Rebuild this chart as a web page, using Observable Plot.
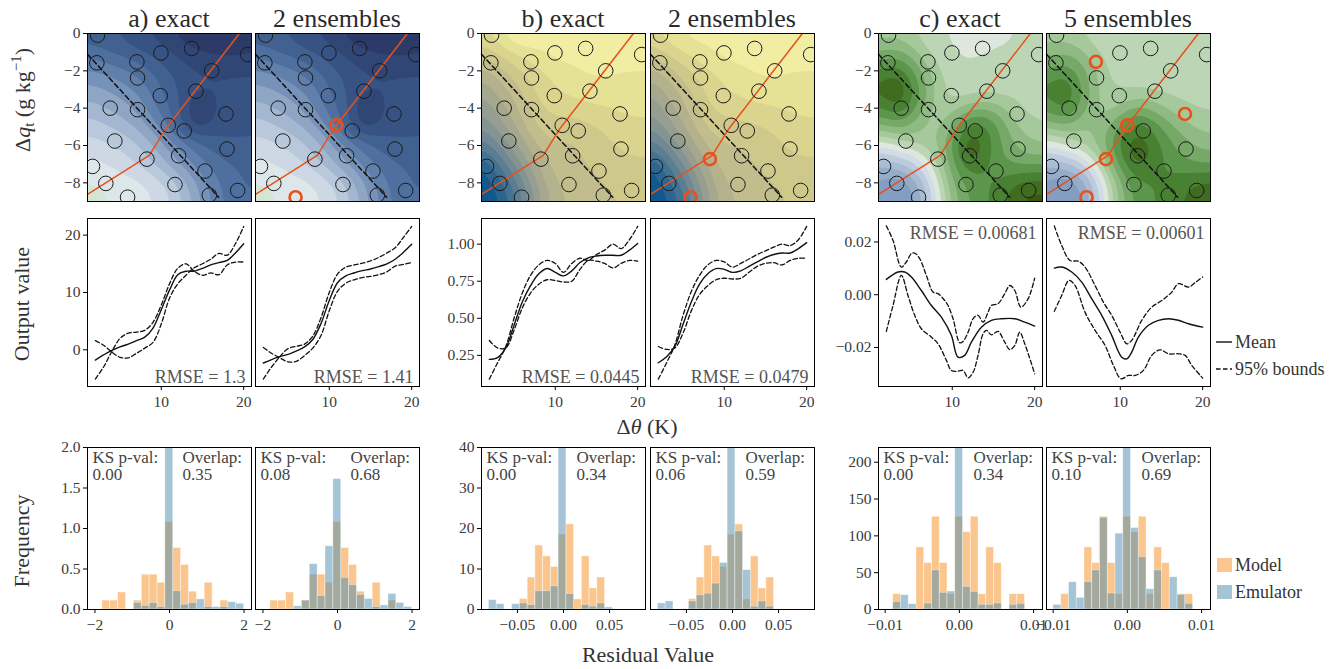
<!DOCTYPE html>
<html><head><meta charset="utf-8">
<script src="https://cdn.jsdelivr.net/npm/d3@7"></script>
<script src="https://cdn.jsdelivr.net/npm/@observablehq/plot@0.6"></script>
<style>
html,body{margin:0;padding:0;background:#fff;}
#fig{position:relative;width:1337px;height:669px;overflow:hidden;background:#fff;}
#fig svg{position:absolute;}
</style></head>
<body><div id="fig"></div>
<script>
// ================= DATA =================
// --- top row: sample design (Δθ, Δq_t), path and transect ---
const sampleX = [3.1,3.03,10.06,13.43,19.58,7.42,7.49,15.63,9.99,13.9,4.49,7.49,17.2,10.86,12.62,5.0,17.31,8.52,12.0,2.55,14.89,4.01,11.6,15.37,18.48,6.4];
const sampleY = [-0.09,-1.57,-1.04,-0.8,-1.13,-1.52,-2.38,-2.0,-3.33,-3.09,-4.0,-4.08,-4.31,-4.92,-5.22,-5.76,-6.19,-6.73,-6.55,-7.12,-7.37,-8.03,-8.09,-8.66,-8.41,-8.77];
const highlightA = [13, 25];
const highlightB = [17, 25];
const highlightC = [5, 12, 13, 17, 25];
const pathX = [2, 8.78, 10.6, 18.67];
const pathY = [-8.62, -6.53, -5.1, 0];
const transectX = [2, 16.4];
const transectY = [-1.11, -8.77];

// --- top row: emulator fields read as contour levels on a coarse grid ---
const gridX = [2,4,6,8,10,12,14,16,18,20];
const gridY = [0,-1,-2,-3,-4,-5,-6,-7,-8,-9];
const fieldA = [
  [9.5,10,10.3,11,11.5,12.5,13,13.3,13.2,12.8],
  [8.5,9,9.5,10,10.5,11.3,11.8,12.2,12.3,12],
  [6.8,7.2,7.8,8.5,9.5,10.5,11,11,11,11],
  [5.5,6,6.5,7.5,9,10,10.8,11,10.8,10.8],
  [4.5,5,5.6,6.5,8.5,9.5,12.6,11,10.5,10.5],
  [3.3,3.8,4.5,5.5,7,9.5,12.2,10.5,10.3,10.2],
  [2.5,2.8,3.2,4,5.5,7,8.5,9.5,9.8,9.8],
  [1.5,2,2.5,3.3,4.5,6,7.5,8.5,9,9.3],
  [1,1.2,1.5,1.8,2.6,4,6,7.8,8.8,9.2],
  [0.3,1,1.2,1.5,2.2,3.5,5.5,7.5,8.5,9]
];
const fieldBexact = [
  [11.8,12.8,14.6,14.2,13.5,13.6,13.6,13.6,13.6,13.6],
  [10.3,11.3,12.3,12.8,13.4,13.5,13.5,13.6,13.6,13.6],
  [8.5,9.5,10.8,11.8,12.3,12.8,13.3,13.2,13,13],
  [7,8.5,9.7,11.2,12,12.3,12.5,12.6,12.5,12.4],
  [6,7.5,9,10.8,11.3,11.6,11.9,12,12.2,12.2],
  [5,6.5,8.2,10.2,10.8,10.3,10.8,11.3,11.8,11.8],
  [3,5,7,9,10,9.8,10.3,10.8,11.3,11.3],
  [0.7,3,5.5,8,9.5,9.8,10.1,10.4,10.8,10.8],
  [0,1.5,4,7,9,9.4,9.8,10.1,10.4,10.4],
  [0,0.5,3,6.5,8.6,9.2,9.5,9.8,10.1,10.1]
];
const fieldBens = [
  [11.8,12.8,13.5,13.5,13.5,13.6,13.6,13.6,13.6,13.6],
  [10.3,11.3,12.3,12.8,13.4,13.5,13.5,13.6,13.6,13.6],
  [8.5,9.5,10.8,11.8,12.3,12.8,13.3,13.2,13,13],
  [7,8.5,9.7,11.2,12,12.3,12.5,12.6,12.5,12.4],
  [6,7.5,9,10.8,11.3,11.6,11.9,12,12.2,12.2],
  [5,6.5,8.2,10.2,10.8,10.6,10.9,11.3,11.8,11.8],
  [3,5,7,9,10,10,10.3,10.8,11.3,11.3],
  [0.7,3,5.5,8,9.5,9.8,10.1,10.4,10.8,10.8],
  [0,1.5,4,7,9,9.4,9.8,10.1,10.4,10.4],
  [0,0.5,3,6.5,8.6,9.2,9.5,9.8,10.1,10.1]
];
const fieldCexact = [
  [8.3,8.3,7.8,7,7,6,6,6.5,7.5,7.5],
  [10,10.5,9,7.5,7,7,7.2,7.5,7.5,7.5],
  [12,13,11,8.5,7.3,7,7.2,7.5,7.5,7.5],
  [13,15,12,9,7.5,7.3,7.5,7.5,7.5,7.3],
  [11.5,13.5,11.5,8.5,8.3,9.5,10,8.8,7.8,7.5],
  [9.5,10.5,9.5,8.3,10,13,12.5,10,8.5,8],
  [6,7,7.8,8.5,11,15,12.5,10.5,9.5,9],
  [3,3.5,4.5,7.3,10.5,13,12,11,10.5,11],
  [2,0.8,2.2,5.5,10,11.5,12,12.5,13.5,13.5],
  [2.5,0.3,1.5,5,9.5,11,12,13,14.5,14.5]
];
const fieldCens = [
  [8.3,8.3,7.8,7,7,7,7,7.3,7.5,7.5],
  [9.5,10,9,7.8,7.2,7,7,7.2,7.3,7.5],
  [11,12,10.5,8.5,7.3,7.2,7.3,7.4,7.5,7.5],
  [12,13.5,11,8.5,8,8,7.8,7.6,7.5,7.5],
  [11,13,10.5,8.5,9,10.5,9.5,8.5,8,7.8],
  [9,10,9,9,11.5,13,11.5,10,9,8.5],
  [6,7,7.8,9.5,12.5,14.5,12.5,11,10,9.5],
  [3,3.5,4.5,7.8,11.5,13.5,12.5,11.5,11,11],
  [2,0.8,2.2,5.5,10,12,12,12.5,13,13.5],
  [2.5,0.3,1.5,5,9.5,11.5,12,12.5,13.5,14]
];
const levelsA = [0,1,2,3,4,5,6,7,8,9,10,11,12,13];
const levelsB = [0,1,2,3,4,5,6,7,8,9,10,11,12,13,14];
const levelsC = [0,1,2,3,4,5,6,7,8,9,10,11,12,13,14,15];

// --- middle row: emulator mean and 95% bounds vs Δθ (K) ---
const xInt = [2,3,4,5,6,7,8,9,10,11,12,13,14,15,16,17,18,19,20];
const aExactMean = [-1.8,-0.9,-0.1,0.5,1.0,1.6,2.2,3.8,7.0,10.4,13.1,13.7,13.7,14.2,14.8,15.2,15.6,16.9,18.5];
const aExactBoundA = [1.6,0.8,-0.4,-1.3,-1.4,-0.6,0.3,1.3,4.5,9.0,11.5,13.0,14.3,15.0,15.8,16.8,16.5,18.5,21.5];
const aExactBoundB = [-5.1,-3.0,-0.3,2.0,2.9,3.1,3.4,4.8,7.8,11.5,14.2,15.0,13.7,13.0,13.4,13.1,14.8,15.3,15.3];
const aEnsMean = [-2.3,-1.7,-1.2,-0.8,-0.2,0.5,1.8,4.6,8.6,11.7,12.9,13.4,13.8,14.1,14.5,15.0,15.8,17.0,18.4];
const aEnsBoundA = [0.4,-0.6,-1.4,-2.1,-2.0,-1.0,0.3,2.5,6.8,10.2,11.6,12.2,12.6,12.8,13.1,13.6,14.6,14.9,15.2];
const aEnsBoundB = [-5.1,-3.0,-1.2,0.2,0.6,1.0,2.4,5.6,10.0,13.2,14.4,14.8,15.1,15.5,16.1,16.9,17.8,19.6,21.5];
const bExactMean = [0.223,0.235,0.30,0.453,0.61,0.72,0.80,0.836,0.81,0.786,0.82,0.876,0.908,0.92,0.925,0.925,0.925,0.96,1.005];
const bExactBoundA = [0.35,0.30,0.30,0.42,0.57,0.67,0.73,0.76,0.755,0.745,0.75,0.83,0.89,0.885,0.87,0.84,0.87,0.89,0.885];
const bExactBoundB = [0.09,0.2,0.31,0.5,0.67,0.79,0.86,0.89,0.87,0.81,0.87,0.905,0.89,0.93,0.96,1.0,0.97,1.03,1.12];
const bEnsMean = [0.20,0.24,0.31,0.46,0.61,0.73,0.80,0.835,0.83,0.81,0.82,0.85,0.88,0.91,0.93,0.94,0.94,0.97,1.01];
const bEnsBoundA = [0.31,0.29,0.30,0.40,0.55,0.66,0.72,0.76,0.77,0.765,0.77,0.81,0.85,0.87,0.875,0.86,0.89,0.905,0.905];
const bEnsBoundB = [0.09,0.2,0.32,0.52,0.68,0.79,0.86,0.89,0.88,0.845,0.87,0.90,0.93,0.955,0.98,1.0,0.99,1.03,1.12];
const cExactMeanX = [2,3.42,4.23,5.04,6.25,7.47,8.68,9.89,10.7,11.51,12.32,13.54,14.75,15.97,17.59,18.8,20];
const cExactMean = [0.0058,0.0086,0.0086,0.0067,0.0016,-0.0041,-0.0085,-0.0154,-0.0237,-0.023,-0.018,-0.0123,-0.0097,-0.0091,-0.0091,-0.0104,-0.0119];
const cExactUpX = [2,2.81,3.82,4.43,5.04,5.44,6.05,6.86,7.67,8.28,9.09,9.49,10.1,10.91,11.31,11.92,12.53,13.13,13.74,14.35,14.75,15.56,16.37,16.98,17.59,18.32,19.21,20];
const cExactUp = [0.0261,0.0206,0.0105,0.0124,0.0156,0.0158,0.0137,0.0073,0.001,0.0004,-0.0022,-0.0041,-0.0091,-0.0182,-0.0177,-0.0142,-0.0091,-0.0078,-0.0104,-0.0066,-0.0041,-0.0034,0.0004,0.0035,0.0016,-0.0047,-0.0015,0.0063];
const cExactLoX = [2,2.81,3.82,4.63,5.44,6.25,7.47,8.28,9.29,9.89,10.7,11.31,11.92,12.53,13.13,13.74,14.15,14.75,15.56,16.37,16.98,17.59,18.19,18.8,20];
const cExactLo = [-0.0139,-0.0041,0.0073,-0.0003,-0.0078,-0.0129,-0.0161,-0.0186,-0.0249,-0.0287,-0.029,-0.0287,-0.0315,-0.0294,-0.023,-0.0148,-0.0135,-0.0152,-0.0139,-0.018,-0.0208,-0.0192,-0.0142,-0.0186,-0.03];
const cEnsMeanX = [2,2.89,4.11,5.32,6.53,7.75,8.96,10.18,10.79,11.39,12.2,13.42,14.63,15.85,17.06,18.28,20];
const cEnsMean = [0.0101,0.0105,0.0086,0.0048,-0.0015,-0.0078,-0.0154,-0.0237,-0.0243,-0.0218,-0.0161,-0.0116,-0.0097,-0.0091,-0.0097,-0.011,-0.0123];
const cEnsUpX = [2,2.89,3.9,4.91,5.72,6.94,7.95,8.96,9.98,10.79,11.39,12.61,13.82,15.04,16.25,17.06,18.28,19.09,20];
const cEnsUp = [0.0261,0.0187,0.013,0.0127,0.0105,0.0035,-0.0028,-0.0078,-0.0142,-0.0186,-0.0173,-0.0097,-0.0047,-0.0022,0.001,0.0042,0.0029,0.0046,0.0067];
const cEnsLoX = [2,2.89,3.78,4.51,5.72,6.94,8.15,9.17,10.1,10.99,11.8,12.81,13.82,14.83,15.85,17.06,17.87,18.68,20];
const cEnsLo = [-0.0063,-0.0003,0.0054,0.0035,-0.0066,-0.0135,-0.0192,-0.0268,-0.0319,-0.0306,-0.0306,-0.0287,-0.023,-0.0209,-0.0224,-0.0224,-0.023,-0.0268,-0.0316];
const rmseLabels = ["1.3","1.41","0.0445","0.0479","0.00681","0.00601"];

// --- bottom row: residual histograms (bin edges and heights) ---
const binsA = [-1.8,-1.589,-1.378,-1.167,-0.956,-0.744,-0.533,-0.322,-0.111,0.1,0.311,0.522,0.733,0.944,1.156,1.367,1.578,1.789,2.0];
const modelA = [0.11,0.11,0.21,0,0.11,0.43,0.43,0.33,1.08,0.76,0.55,0.22,0,0.33,0,0.11,0,0];
const emuAexact = [0,0,0,0,0.08,0.045,0.08,0.03,2.4,0.225,0.06,0.08,0.125,0.03,0.03,0.03,0.09,0.07];
const emuAens = [0,0,0,0.04,0.11,0.56,0.165,0.78,1.61,0.39,0.30,0.18,0.13,0.03,0.05,0.19,0.08,0.03];
const binsB = [-0.0809,-0.0725,-0.0641,-0.0557,-0.0473,-0.0389,-0.0305,-0.0221,-0.0137,-0.0053,0.0031,0.0115,0.0199,0.0283,0.0367,0.0451,0.0535];
const modelB = [0,0,0,0,2.6,7.9,15.8,13.1,10.5,18.5,21,2.5,13.1,5.2,7.9,0];
const emuBexact = [2.3,1.3,0,1.3,1.5,1.1,4.5,4.5,5.7,45,3.8,0,1.1,0.7,1.5,0.5];
const emuBens = [1.5,2.0,0,0,2.0,3.5,3.9,6.4,11.5,45,19.3,9.7,0.7,2.0,0.7,0];
const binsC = [-0.00996,-0.008915,-0.00787,-0.006825,-0.00578,-0.004735,-0.00369,-0.002645,-0.0016,-0.000555,0.00049,0.001535,0.00258,0.003625,0.00467,0.005715,0.00676,0.007805,0.00885];
const modelC = [0,20.8,0,0,84.4,63,126,63,20.8,126,105,126,20.8,84.4,63,0,20.8,20.8];
const emuCexact = [0,10,19.4,7.2,0,8,53,22.6,24.4,240,30.7,23.9,6.3,6.3,8.1,0,6.3,7.7];
const emuCens = [6.3,0,37,15.8,37,53,124.6,21.7,103,240,110.6,71,27.5,53,0,43.8,19.9,7.7];
const ksLabels = ["0.00","0.08","0.00","0.06","0.00","0.10"];
const overlapLabels = ["0.35","0.68","0.34","0.59","0.34","0.69"];

const titles = ["a) exact","2 ensembles","b) exact","2 ensembles","c) exact","5 ensembles"];

// ================= STYLE / LAYOUT =================
const FONT = "'Liberation Serif', 'DejaVu Serif', serif";
const ORANGE = "#e8501c";
const MODEL = "#fbc68d", EMU = "#4b8bad";
const colorsA = ["#d5e5d3","#dde7e9","#cdd8e4","#b9c8db","#a4b7d0","#8ea5c4","#7792b8","#617fab","#4f6f9f","#416191","#375384","#304776","#2c3a67","#2a2d56"];
const colorsB = ["#11598c","#2b6590","#447291","#5b7e93","#708994","#839493","#959e91","#a5a88f","#b4b28d","#c2bd8c","#cec88b","#dad48e","#e5e195","#f1eda2","#ffffff"];
const colorsC = ["#7190b9","#839ec1","#96adca","#a9bcd3","#bdcbdc","#d1dce6","#dde7dd","#bcd6b5","#a6c99c","#8fba83","#76a868","#5c954c","#498132","#3f6c1f","#3b5713","#374a0b"];

const fig = document.getElementById("fig");
const ML = 60, MR = 10, MT = 10, MB = 36;
const colL = [87, 255, 481, 650, 878, 1046];
const PW = 164;
const rowT = [33, 218, 447];
const rowH = [168, 168, 162];

const fmt = dec => d => (d < 0 ? "\u2212" : "") + Math.abs(d).toFixed(dec);
function base(h) {
  return {width: PW + ML + MR, height: h + MT + MB, marginLeft: ML, marginRight: MR, marginTop: MT, marginBottom: MB,
    style: {background: "transparent", overflow: "visible", fontFamily: FONT, fontSize: "15.5px", color: "#000"}};
}
function mount(p, ci, ri) {
  p.style.position = "absolute";
  p.style.left = (colL[ci] - ML) + "px";
  p.style.top = (rowT[ri] - MT) + "px";
  fig.appendChild(p);
}
const yAx = (ticks, dec) => Plot.axisY({ticks, tickFormat: fmt(dec), tickSize: 4, tickPadding: 3, label: null, stroke: "#000", fill: "#3a3a3a"});
const xAx = (ticks, dec) => Plot.axisX({ticks, tickFormat: fmt(dec), tickSize: 4, tickPadding: 5, label: null, stroke: "#000", fill: "#3a3a3a"});
const pts = (xs, ys) => xs.map((x, i) => ({x, y: ys[i]}));

// ================= TOP ROW =================
function topPanel(ci, field, levels, colors, hi) {
  const cells = [];
  gridY.forEach((gy, r) => gridX.forEach((gx, c) => cells.push({x: gx, y: gy, v: field[r][c]})));
  const samples = pts(sampleX, sampleY);
  const plain = samples.filter((d, i) => !hi.includes(i));
  const marks = [
    Plot.contour(cells, {x: "x", y: "y", fill: "v", thresholds: levels, interpolate: "barycentric", blur: 4, stroke: "none"}),
    Plot.line(pts(transectX, transectY), {x: "x", y: "y", stroke: "#111", strokeWidth: 1.5, strokeDasharray: "5,3"}),
    Plot.line(pts(pathX, pathY), {x: "x", y: "y", stroke: ORANGE, strokeWidth: 1.5, clip: true}),
    Plot.dot(plain, {x: "x", y: "y", r: 7.3, stroke: "#1a1a1a", strokeWidth: 1, fill: "none", clip: true}),
    Plot.dot(hi.map(i => samples[i]), {x: "x", y: "y", r: 6, stroke: ORANGE, strokeWidth: 2.6, fill: "none", clip: true}),
    Plot.frame({stroke: "#000", strokeWidth: 1})
  ];
  if (ci % 2 === 0) marks.push(yAx([0, -2, -4, -6, -8], 0));
  mount(Plot.plot({...base(rowH[0]), x: {domain: [2, 20], axis: null}, y: {domain: [-9, 0], axis: null},
    color: {type: "threshold", domain: levels.slice(1), range: colors}, marks}), ci, 0);
}
topPanel(0, fieldA, levelsA, colorsA, []);
topPanel(1, fieldA, levelsA, colorsA, highlightA);
topPanel(2, fieldBexact, levelsB, colorsB, []);
topPanel(3, fieldBens, levelsB, colorsB, highlightB);
topPanel(4, fieldCexact, levelsC, colorsC, []);
topPanel(5, fieldCens, levelsC, colorsC, highlightC);

// ================= MIDDLE ROW =================
function midPanel(ci, mean, bA, bB, yDom, yTicks, dec, rmseTop) {
  const dash = {x: "x", y: "y", stroke: "#111", strokeWidth: 1.3, strokeDasharray: "4.5,2.5", curve: "catmull-rom", clip: true};
  const marks = [
    Plot.line(bA, dash),
    Plot.line(bB, dash),
    Plot.line(mean, {x: "x", y: "y", stroke: "#111", strokeWidth: 1.4, curve: "catmull-rom", clip: true}),
    Plot.text([`RMSE = ${rmseLabels[ci]}`], {text: d => d, frameAnchor: rmseTop ? "top-right" : "bottom-right", textAnchor: "end",
      lineAnchor: rmseTop ? "top" : "bottom", dx: -6, dy: rmseTop ? 8 : -4, fontSize: 18, fill: "#555", fontFamily: FONT}),
    Plot.frame({stroke: "#000", strokeWidth: 1}),
    xAx([10, 20], 0)
  ];
  if (ci % 2 === 0) marks.push(yAx(yTicks, dec));
  mount(Plot.plot({...base(rowH[1]), x: {domain: [1.05, 20.95], axis: null}, y: {domain: yDom, axis: null}, marks}), ci, 1);
}
midPanel(0, pts(xInt, aExactMean), pts(xInt, aExactBoundA), pts(xInt, aExactBoundB), [-6.4, 22.9], [0, 10, 20], 0, false);
midPanel(1, pts(xInt, aEnsMean), pts(xInt, aEnsBoundA), pts(xInt, aEnsBoundB), [-6.4, 22.9], [0, 10, 20], 0, false);
midPanel(2, pts(xInt, bExactMean), pts(xInt, bExactBoundA), pts(xInt, bExactBoundB), [0.04, 1.173], [0.25, 0.5, 0.75, 1.0], 2, false);
midPanel(3, pts(xInt, bEnsMean), pts(xInt, bEnsBoundA), pts(xInt, bEnsBoundB), [0.04, 1.173], [0.25, 0.5, 0.75, 1.0], 2, false);
midPanel(4, pts(cExactMeanX, cExactMean), pts(cExactUpX, cExactUp), pts(cExactLoX, cExactLo), [-0.0348, 0.0289], [-0.02, 0, 0.02], 2, true);
midPanel(5, pts(cEnsMeanX, cEnsMean), pts(cEnsUpX, cEnsUp), pts(cEnsLoX, cEnsLo), [-0.0348, 0.0289], [-0.02, 0, 0.02], 2, true);

// ================= BOTTOM ROW =================
function histPanel(ci, edges, model, emu, xDom, xTicks, xDec, yDom, yTicks, yDec) {
  const bars = h => h.map((v, i) => ({x1: edges[i], x2: edges[i + 1], h: v})).filter(d => d.h > 0);
  const ann = {frameAnchor: "top-left", textAnchor: "start", lineAnchor: "bottom", fontSize: 17, fill: "#444", fontFamily: FONT, text: d => d};
  const marks = [
    Plot.rect(bars(model), {x1: "x1", x2: "x2", y1: 0, y2: "h", fill: MODEL, stroke: "#fff", strokeOpacity: 0.5, strokeWidth: 0.8, clip: true}),
    Plot.rect(bars(emu), {x1: "x1", x2: "x2", y1: 0, y2: "h", fill: EMU, fillOpacity: 0.5, stroke: "#fff", strokeOpacity: 0.4, strokeWidth: 0.8, clip: true}),
    Plot.text(["KS p-val:"], {...ann, dx: 5, dy: 15}),
    Plot.text([ksLabels[ci]], {...ann, dx: 5, dy: 32}),
    Plot.text(["Overlap:"], {...ann, dx: 95, dy: 15}),
    Plot.text([overlapLabels[ci]], {...ann, dx: 95, dy: 32}),
    Plot.frame({stroke: "#000", strokeWidth: 1}),
    xAx(xTicks, xDec)
  ];
  if (ci % 2 === 0) marks.push(yAx(yTicks, yDec));
  mount(Plot.plot({...base(rowH[2]), x: {domain: xDom, axis: null}, y: {domain: yDom, axis: null}, marks}), ci, 2);
}
histPanel(0, binsA, modelA, emuAexact, [-2.2, 2.2], [-2, 0, 2], 0, [0, 2], [0, 0.5, 1, 1.5, 2], 1);
histPanel(1, binsA, modelA, emuAens, [-2.2, 2.2], [-2, 0, 2], 0, [0, 2], [0, 0.5, 1, 1.5, 2], 1);
histPanel(2, binsB, modelB, emuBexact, [-0.089, 0.089], [-0.05, 0, 0.05], 2, [0, 40], [0, 10, 20, 30, 40], 0);
histPanel(3, binsB, modelB, emuBens, [-0.089, 0.089], [-0.05, 0, 0.05], 2, [0, 40], [0, 10, 20, 30, 40], 0);
histPanel(4, binsC, modelC, emuCexact, [-0.0109, 0.0112], [-0.01, 0, 0.01], 2, [0, 220], [0, 50, 100, 150, 200], 0);
histPanel(5, binsC, modelC, emuCens, [-0.0109, 0.0112], [-0.01, 0, 0.01], 2, [0, 220], [0, 50, 100, 150, 200], 0);

// ================= TEXT OVERLAY (titles, labels, legends) =================
const ov = d3.select(fig).append("svg").attr("width", 1337).attr("height", 669)
  .style("left", "0px").style("top", "0px").style("font-family", FONT);
titles.forEach((t, i) => ov.append("text").attr("x", colL[i] + PW / 2).attr("y", 27).attr("text-anchor", "middle")
  .attr("font-size", 26).attr("fill", "#2a2a2a").text(t));
const yl = ov.append("text").attr("transform", "translate(30,100) rotate(-90)").attr("text-anchor", "middle").attr("font-size", 22).attr("fill", "#333");
yl.append("tspan").text("Δ");
yl.append("tspan").attr("font-style", "italic").text("q");
yl.append("tspan").attr("font-size", 15).attr("dy", 4).text("t");
yl.append("tspan").attr("dy", -4).text(" (g kg");
yl.append("tspan").attr("font-size", 15).attr("dy", -9).text("\u22121");
yl.append("tspan").attr("dy", 9).text(")");
ov.append("text").attr("transform", "translate(29,304) rotate(-90)").attr("text-anchor", "middle").attr("font-size", 22).attr("fill", "#333").text("Output value");
ov.append("text").attr("transform", "translate(29,541) rotate(-90)").attr("text-anchor", "middle").attr("font-size", 22).attr("fill", "#333").text("Frequency");
const xl = ov.append("text").attr("x", 647).attr("y", 434).attr("text-anchor", "middle").attr("font-size", 22).attr("fill", "#333");
xl.append("tspan").text("Δ");
xl.append("tspan").attr("font-style", "italic").text("θ");
xl.append("tspan").text(" (K)");
ov.append("text").attr("x", 648).attr("y", 662).attr("text-anchor", "middle").attr("font-size", 22).attr("fill", "#333").text("Residual Value");
// line legend
ov.append("line").attr("x1", 1216).attr("x2", 1232).attr("y1", 342).attr("y2", 342).attr("stroke", "#111").attr("stroke-width", 1.4);
ov.append("text").attr("x", 1235).attr("y", 348).attr("font-size", 18).attr("fill", "#333").text("Mean");
ov.append("line").attr("x1", 1216).attr("x2", 1232).attr("y1", 369).attr("y2", 369).attr("stroke", "#111").attr("stroke-width", 1.3).attr("stroke-dasharray", "4.5,2.5");
ov.append("text").attr("x", 1235).attr("y", 375).attr("font-size", 18).attr("fill", "#333").text("95% bounds");
// histogram legend
ov.append("rect").attr("x", 1217).attr("y", 558).attr("width", 15).attr("height", 14).attr("fill", MODEL);
ov.append("text").attr("x", 1235).attr("y", 571).attr("font-size", 18).attr("fill", "#333").text("Model");
ov.append("rect").attr("x", 1217).attr("y", 585).attr("width", 15).attr("height", 14).attr("fill", "#a5c5d6");
ov.append("text").attr("x", 1235).attr("y", 598).attr("font-size", 18).attr("fill", "#333").text("Emulator");
</script></body></html>
